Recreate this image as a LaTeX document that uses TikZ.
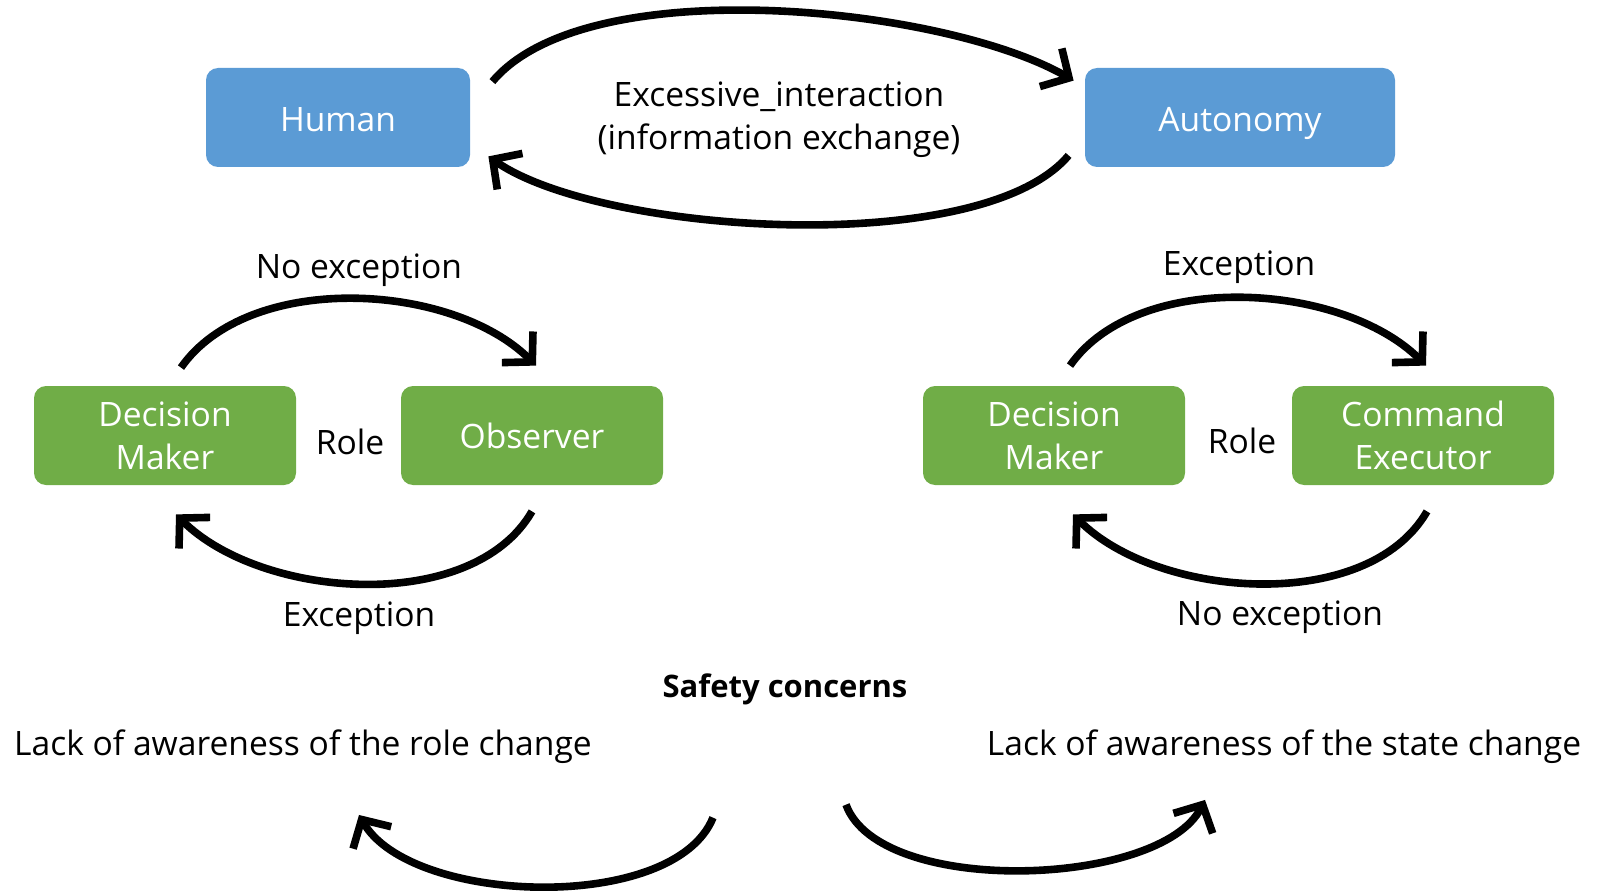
\documentclass[tikz,border=0pt]{standalone}
\usepackage{fontspec}
\setmainfont{Open Sans}
\usepackage{xcolor}
\usetikzlibrary{arrows.meta, calc}
\definecolor{agentblue}{HTML}{5B9BD5}
\definecolor{rolegreen}{HTML}{70AD47}
\tikzset{box/.style={rounded corners=6pt, text=white, align=center,
		minimum height=49.5pt, font=\fontsize{16.8}{21.5}\selectfont},
	agent/.style={box, fill=agentblue, minimum width=132pt, text height=14pt, text depth=0pt},
	rolebox/.style={box, fill=rolegreen, minimum width=131pt},
	lbl/.style={align=center, font=\fontsize{16.8}{21.5}\selectfont},
	bendarrow/.style={line width=3.8pt, -{Straight Barb[length=10.5pt,width=22pt]}}}

\begin{document}
\begin{tikzpicture}[x=0.5pt,y=0.5pt]
			\useasboundingbox (0,0) rectangle (1601,891);
			% top row
			\node[agent] (human) at (338,773.5) {Human};
			\node[agent, minimum width=155pt] (auto) at (1240,773.5) {Autonomy};
			\node[lbl] (exch) at (779,771) {Excessive\_interaction\\(information exchange)};
			\draw[bendarrow] ($(human.north east)+(22,-14)$) to[out=50,in=150,looseness=0.65] ($(auto.north west)+(-11,-13)$);
			\draw[bendarrow] ($(auto.south west)+(-16,12)$) to[out=-130,in=-35,looseness=0.6] ($(human.south east)+(18,11)$);
			% human side roles
			\node[rolebox] (dmL) at (165,455.5) {Decision\\Maker};
			\node[rolebox] (obs) at (532,455.5) {Observer};
			\node[lbl] (roleL) at (350,449) {Role};
			\node[lbl] (noexL) at (359,621) {No exception};
			\node[lbl] (excL) at (359,273) {Exception};
			\draw[bendarrow] ($(dmL.north)+(16,18)$) to[out=55,in=135,looseness=0.85] ($(obs.north)+(4,20)$);
			\draw[bendarrow] ($(obs.south)+(0,-26)$) to[out=-120,in=-45,looseness=0.86] ($(dmL.south)+(11,-29)$);
			% autonomy side roles
			\node[rolebox] (dmR) at (1054,455.5) {Decision\\Maker};
			\node[rolebox] (cmd) at (1423,455.5) {Command\\Executor};
			\node[lbl] (roleR) at (1242,450) {Role};
			\node[lbl] (excR) at (1239,624) {Exception};
			\node[lbl] (noexR) at (1280,274) {No exception};
			\draw[bendarrow] ($(dmR.north)+(16,20)$) to[out=55,in=135,looseness=0.85] ($(cmd.north)+(3,20)$);
			\draw[bendarrow] ($(cmd.south)+(4,-26)$) to[out=-120,in=-45,looseness=0.86] ($(dmR.south)+(19,-29)$);
			% safety concerns
			\node[lbl, font=\fontsize{15.5}{21.5}\selectfont\bfseries] (safety) at (785,202) {Safety concerns};
			\node[lbl] (lackL) at (303,144) {Lack of awareness of the role change};
			\node[lbl] (lackR) at (1284,144) {Lack of awareness of the state change};
			\draw[bendarrow] ($(safety.south)+(-72,-106)$) to[out=-112,in=-60,looseness=0.75] ($(lackL.south)+(56,-44)$);
			\draw[bendarrow] ($(safety.south)+(61,-93)$) to[out=-70,in=-117,looseness=0.7] ($(lackR.south)+(-79,-29)$);
		\end{tikzpicture}
\end{document}
